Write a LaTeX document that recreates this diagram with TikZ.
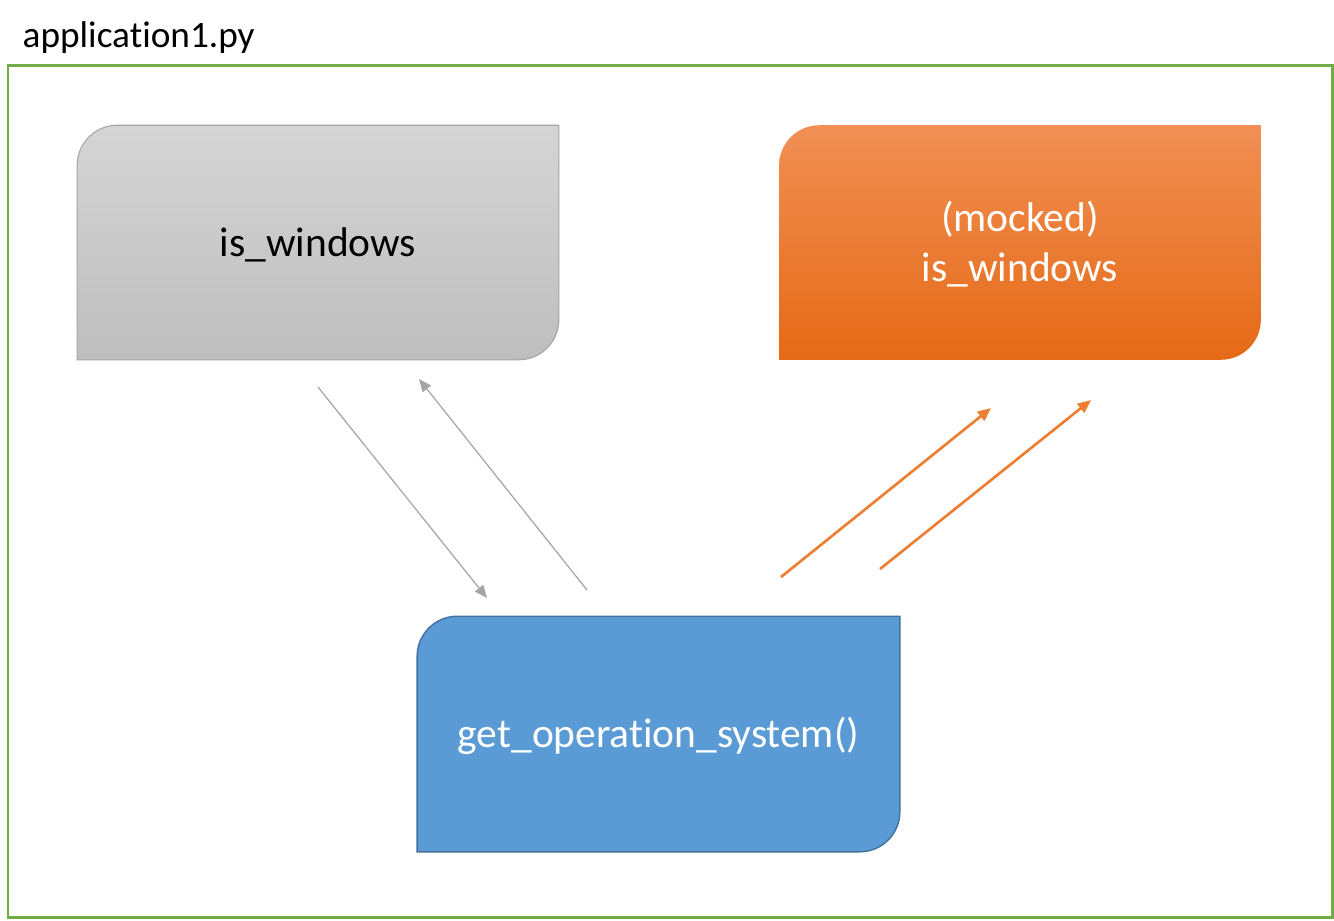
\documentclass[tikz,border=0pt]{standalone}
\usepackage{fontspec}
\setmainfont[Ligatures=NoCommon]{Carlito}
\usetikzlibrary{arrows.meta,backgrounds}

\definecolor{framegreen}{RGB}{112,173,71}
\definecolor{graytop}{RGB}{213,213,213}
\definecolor{graybot}{RGB}{190,190,190}
\definecolor{grayline}{RGB}{165,165,165}
\definecolor{orangetop}{RGB}{241,143,84}
\definecolor{orangemid}{RGB}{242,128,46}
\definecolor{orangebot}{RGB}{229,106,22}
\definecolor{orangeline}{RGB}{237,125,49}
\definecolor{bluefill}{RGB}{91,155,213}
\definecolor{blueline}{RGB}{65,113,156}

% box with rounded top-left and bottom-right corners
\newcommand{\tabbox}[2]{%
  \draw[#2] (#1.south west) -- ([yshift=-0.4cm]#1.north west)
    arc[start angle=180, end angle=90, radius=0.4cm] -- (#1.north east)
    -- ([yshift=0.4cm]#1.south east)
    arc[start angle=0, end angle=-90, radius=0.4cm] -- cycle;}

\begin{document}
\begin{tikzpicture}[
        x=0.01cm, y=-0.01cm,
        funcbox/.style={minimum width=4.8cm, minimum height=2.33cm, inner sep=0pt,
            align=center, font=\fontsize{11.8}{14.2}\selectfont},
        grayarrow/.style={grayline, line width=0.35pt, -{Triangle[length=3.6pt, width=3pt]}},
        orangearrow/.style={orangeline, line width=0.75pt, -{Triangle[length=3.8pt, width=3.2pt]}}
    ]
    \useasboundingbox (0,0) rectangle (1334,920);

    % ==========================================
    % FRAME: application1.py
    % ==========================================
    \node[anchor=base west, inner sep=0pt, font=\fontsize{10.6}{12.7}\selectfont] (title) at (22,47) {application1.py};
    \draw[framegreen, line width=0.85pt] (8,65) rectangle (1332,917);

    % ==========================================
    % BOXES
    % ==========================================
    \node[funcbox] (iswin) at (318,242.5) {};
    \node[funcbox] (iswintext) at (318,244.5) {is\_windows};
    \node[funcbox] (mocked) at (1020,242.5) {};
    \node[funcbox, text=white] (mockedtext) at (1020,244.5) {(mocked)\\is\_windows};
    \node[funcbox, minimum width=4.81cm, minimum height=2.34cm] (getos) at (658.5,734) {};
    \node[funcbox, text=white] (getostext) at (658.5,736) {get\_operation\_system()};

    \begin{scope}[on background layer]
        \tabbox{iswin}{draw=grayline, line width=0.3pt, top color=graytop, bottom color=graybot}
        \tabbox{mocked}{draw=none, top color=orangetop, middle color=orangemid, bottom color=orangebot}
        \tabbox{getos}{draw=blueline, line width=0.4pt, fill=bluefill}
    \end{scope}

    % ==========================================
    % ARROWS
    % ==========================================
    \coordinate (g1s) at (318,387);
    \coordinate (g1e) at (487,598);
    \coordinate (g2s) at (587,590);
    \coordinate (g2e) at (419,379);
    \draw[grayarrow] (g1s) -- (g1e);
    \draw[grayarrow] (g2s) -- (g2e);

    \coordinate (o1s) at (781,577);
    \coordinate (o1e) at (991,408);
    \coordinate (o2s) at (880,569);
    \coordinate (o2e) at (1091,400);
    \draw[orangearrow] (o1s) -- (o1e);
    \draw[orangearrow] (o2s) -- (o2e);

\end{tikzpicture}
\end{document}
